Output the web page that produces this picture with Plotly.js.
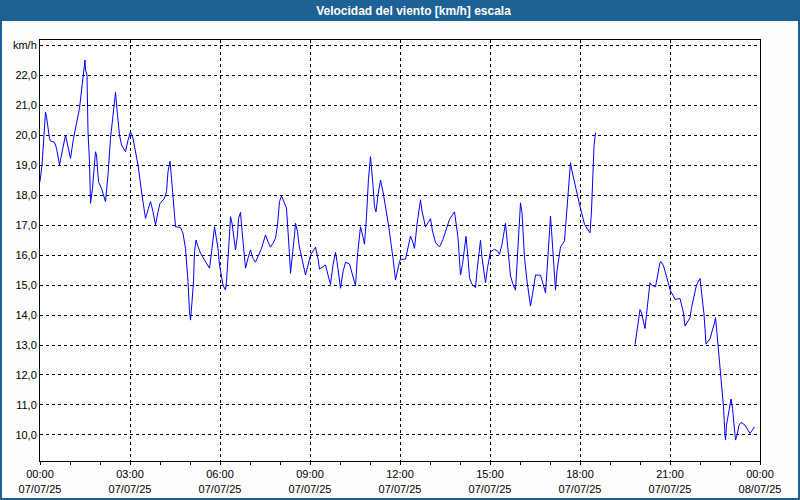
<!DOCTYPE html>
<html>
<head>
<meta charset="utf-8">
<script src="https://cdn.plot.ly/plotly-3.0.1.min.js"></script>
<style>
html,body{margin:0;padding:0;background:#fcfdfc;}
#chart{width:800px;height:500px;}
</style>
</head>
<body>
<div id="chart"></div>
<script>
// Data: time of day on 07/07/25 (HH:MM) and wind speed in km/h
const day = "2025-07-07";
const times = [
"00:00","00:04","00:11","00:13","00:19","00:21","00:29","00:33","00:39","00:51","01:01","01:07","01:19","01:25","01:30","01:31","01:34","01:36","01:39","01:41","01:45","01:51","01:53","01:57","02:03","02:11","02:16","02:21","02:26","02:31","02:35","02:39","02:43","02:51","02:56","03:01","03:06","03:11","03:16","03:24","03:31","03:37","03:41","03:46","03:51","03:56","04:00","04:09","04:13","04:16","04:20","04:23","04:28","04:31","04:41","04:46","04:51","04:56","04:59","05:01","05:04","05:07","05:09","05:12","05:16","05:21","05:29","05:39","05:44","05:49","05:56","05:59",
"06:06","06:11","06:13","06:17","06:19","06:21","06:24","06:31","06:35","06:37","06:41","06:43","06:49","06:51","06:56","07:01","07:06","07:11","07:23","07:31","07:36","07:41","07:46","07:51","07:55","07:59","08:03","08:07","08:13","08:19","08:21","08:29","08:31","08:35","08:38","08:51","08:56","09:01","09:11","09:16","09:19","09:31","09:36","09:41","09:46","09:51","09:54","10:01","10:06","10:11","10:19","10:26","10:31","10:35","10:41","10:45","10:49","10:53","10:57","11:01","11:03","11:06","11:09","11:12","11:16","11:21","11:26","11:31","11:37","11:46","11:51","11:59",
"12:01","12:11","12:21","12:26","12:29","12:34","12:38","12:41","12:44","12:51","12:56","13:01","13:05","13:11","13:19","13:26","13:39","13:49","13:56","13:58","14:01","14:05","14:09","14:12","14:16","14:19","14:24","14:31","14:34","14:41","14:44","14:51","14:55","14:59","15:01","15:09","15:15","15:19","15:24","15:31","15:34","15:41","15:46","15:51","15:54","16:01","16:04","16:09","16:14","16:18","16:21","16:25","16:31","16:41","16:44","16:51","16:54","17:01","17:04","17:11","17:14","17:21","17:29","17:36","17:41","17:44","17:49","17:59","18:09","18:20","18:23","18:25","18:28","18:31",
"19:10",
"19:50","19:53","20:00","20:03","20:07","20:10","20:13","20:20","20:23","20:31","20:40","20:42","20:47","20:57","21:01","21:07","21:10","21:20","21:27","21:30","21:40","21:43","21:49","21:53","22:00","22:05","22:08","22:12","22:17","22:20","22:29","22:31","22:33","22:40","22:43","22:47","22:50","22:51","22:53","22:57","23:02","23:05","23:08","23:11","23:14","23:18","23:22","23:30","23:40","23:49"
];
const speed = [
18.45,19.0,20.76,20.61,19.89,19.8,19.76,19.56,19.0,20.0,19.22,19.89,20.89,21.67,22.5,22.17,22.0,20.11,19.11,17.72,18.22,19.44,19.33,18.44,18.22,17.78,18.67,19.89,20.56,21.42,20.67,20.0,19.67,19.44,19.83,20.11,19.89,19.44,19.0,18.0,17.22,17.56,17.78,17.44,17.0,17.44,17.72,17.89,18.11,18.78,19.13,18.56,17.67,16.94,16.92,16.72,16.22,15.11,14.11,13.83,14.44,15.11,16.11,16.5,16.28,16.06,15.83,15.56,16.22,16.94,16.22,15.67,
15.0,14.83,15.11,16.0,16.67,17.28,17.06,16.17,16.67,17.22,17.42,17.0,15.72,15.56,15.89,16.17,15.89,15.76,16.22,16.67,16.44,16.26,16.39,16.56,17.0,17.78,17.97,17.78,17.56,16.0,15.39,16.67,17.06,16.78,16.33,15.33,15.67,16.0,16.26,15.89,15.53,15.67,15.33,15.02,15.67,16.09,15.78,14.89,15.44,15.76,15.7,15.22,14.97,16.0,16.94,16.67,16.36,17.28,18.56,19.28,18.94,18.33,17.61,17.44,18.0,18.5,18.11,17.61,17.0,15.89,15.17,15.78,
15.86,15.86,16.63,16.41,16.22,17.02,17.58,17.84,17.47,16.93,17.08,17.21,16.8,16.41,16.27,16.52,17.19,17.44,16.58,16.02,15.33,15.69,16.36,16.62,15.91,15.24,15.02,14.91,15.47,16.49,15.91,15.08,15.58,16.02,16.11,16.19,16.13,16.02,16.36,17.06,16.58,15.3,15.02,14.83,15.69,17.74,17.41,15.91,15.13,14.69,14.3,14.69,15.33,15.33,15.13,14.74,15.47,17.3,16.58,14.83,15.47,16.27,16.47,17.97,19.08,18.8,18.41,17.69,17.02,16.74,17.47,18.47,19.63,20.08,
null,
13.01,13.35,14.18,14.07,13.79,13.55,14.02,15.08,15.0,14.94,15.75,15.78,15.64,15.08,14.8,14.63,14.52,14.55,14.07,13.63,13.91,14.24,14.69,15.0,15.22,14.46,14.02,13.03,13.12,13.21,13.74,13.91,13.57,12.23,11.56,10.94,9.99,9.83,10.33,10.78,11.2,10.89,10.33,9.83,9.99,10.33,10.42,10.33,10.05,10.27
];
const yTickVals = [10,11,12,13,14,15,16,17,18,19,20,21,22,23];
const yTickText = ["10,0","11,0","12,0","13,0","14,0","15,0","16,0","17,0","18,0","19,0","20,0","21,0","22,0","km/h"];
const titleText = "Velocidad del viento [km/h] escala";

const W = 800, H = 500;
const M = {l:40, r:40, t:40, b:39};
const pw = W - M.l - M.r, ph = H - M.t - M.b;
const px = p => (p - M.l) / pw;
const py = p => 1 - (p - M.t) / ph;
const blue = "#1e6194";

const trace = {
  x: times.map(t => day + " " + t),
  y: speed,
  type: "scatter",
  mode: "lines",
  line: {color: "#0000ff", width: 1},
  connectgaps: false,
  hoverinfo: "skip"
};

const font = {family: "Liberation Sans, Arial, sans-serif", size: 11, color: "#000"};

const layout = {
  width: W, height: H,
  margin: M,
  paper_bgcolor: "#fcfdfc",
  plot_bgcolor: "#ffffff",
  showlegend: false,
  title: {
    text: "<b>" + titleText + "</b>",
    font: {family: "Liberation Sans, Arial, sans-serif", size: 12, color: "#ffffff"},
    x: 415 / W, xanchor: "center", xref: "paper",
    y: 1 - 10.5 / H, yanchor: "middle", yref: "container"
  },
  xaxis: {
    type: "date",
    range: [day + " 00:00", "2025-07-08 00:00"],
    tick0: day + " 00:00",
    dtick: 3 * 3600000,
    tickformat: "%H:%M<br>%d/%m/%y",
    ticks: "outside", ticklen: 3, tickwidth: 1, tickcolor: "#000",
    minor: {dtick: 3600000, ticks: "outside", ticklen: 3, tickwidth: 1, tickcolor: "#000", showgrid: false},
    showgrid: true, gridcolor: "#000", gridwidth: 1, griddash: "3px,3px",
    showline: true, linecolor: "#000", linewidth: 1, mirror: true,
    zeroline: false,
    tickfont: font,
    fixedrange: true
  },
  yaxis: {
    range: [9.133, 23.167],
    tickmode: "array",
    tickvals: yTickVals,
    ticktext: yTickText,
    ticks: "",
    showgrid: true, gridcolor: "#000", gridwidth: 1, griddash: "3px,3px",
    showline: true, linecolor: "#000", linewidth: 1, mirror: true,
    zeroline: false,
    tickfont: font,
    fixedrange: true
  },
  shapes: [
    {type: "rect", xref: "paper", yref: "paper", x0: px(0), x1: px(800), y0: py(21), y1: py(0),
     fillcolor: blue, line: {width: 0}, layer: "above"},
    {type: "rect", xref: "paper", yref: "paper", x0: px(0), x1: px(2), y0: py(500), y1: py(0),
     fillcolor: blue, line: {width: 0}, layer: "above"},
    {type: "rect", xref: "paper", yref: "paper", x0: px(798), x1: px(800), y0: py(500), y1: py(0),
     fillcolor: blue, line: {width: 0}, layer: "above"},
    {type: "rect", xref: "paper", yref: "paper", x0: px(0), x1: px(800), y0: py(500), y1: py(498),
     fillcolor: blue, line: {width: 0}, layer: "above"}
  ]
};

Plotly.newPlot("chart", [trace], layout, {displayModeBar: false, staticPlot: true});
</script>
</body>
</html>
